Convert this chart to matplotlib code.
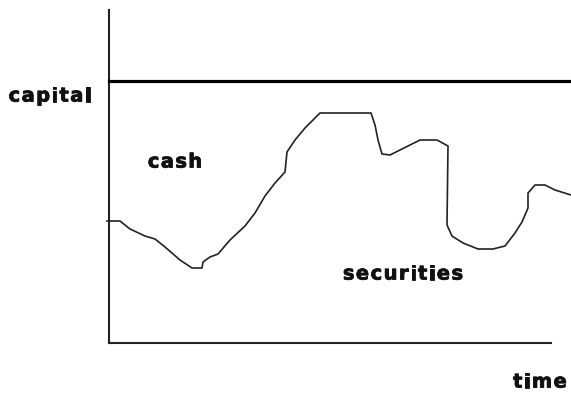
import matplotlib
matplotlib.use("Agg")
import matplotlib.pyplot as plt
import matplotlib.patheffects as pe
from matplotlib.font_manager import FontProperties

# canvas works in picture pixels, y grows downward
W, H = 571, 393

# mix of cash and securities over time (boundary curve)
curve_x = [107, 120, 130, 145, 155, 165, 180, 192, 202, 203, 210, 218, 230, 245,
           255, 265, 275, 285, 287, 295, 305, 320, 371, 375, 378, 382, 390, 400,
           420, 437, 448, 447, 452, 463, 478, 493, 505, 515, 522, 528, 528, 535,
           545, 555, 571]
curve_y = [221, 221, 229, 236, 239, 247, 260, 268, 268, 262, 257, 254, 240, 226,
           213, 196, 183, 172, 152, 140, 128, 113, 113, 125, 140, 154, 155, 150,
           140, 140, 146, 225, 236, 243, 249, 249, 246, 233, 222, 208, 193, 185,
           185, 190, 195]

capital_y = 81
axis_x = 109
axis_top, axis_bottom = 10, 343
axis_right = 551

labels = ["capital", "cash", "securities", "time"]
label_x = [50, 175, 403, 540]
label_y = [96, 162, 274, 382]

fig = plt.figure(figsize=(W / 100, H / 100), dpi=100)
ax = fig.add_axes([0, 0, 1, 1])
ax.set_xlim(0, W)
ax.set_ylim(H, 0)
ax.axis("off")

ax.plot([axis_x, axis_x], [axis_top, axis_bottom], color="#222222", lw=1.5)
ax.plot([axis_x, axis_right], [axis_bottom, axis_bottom], color="#222222", lw=1.5)
ax.plot([axis_x, W], [capital_y, capital_y], color="black", lw=2.3)
ax.plot(curve_x, curve_y, color="#222222", lw=1.2)

# heavy labels with a little extra letter spacing
prop = FontProperties(family="DejaVu Sans", weight="bold", size=14)
renderer = fig.canvas.get_renderer()
spacing = 1.4
heavy = [pe.withStroke(linewidth=0.6, foreground="#111111")]


def width(s):
    if not s:
        return 0.0
    w, _, _ = renderer.get_text_width_height_descent(s, prop, ismath=False)
    return w


for t, x, y in zip(labels, label_x, label_y):
    total = width(t) + spacing * (len(t) - 1)
    x0 = x - total / 2
    for i, ch in enumerate(t):
        cx = x0 + width(t[:i]) + spacing * i
        ax.text(cx, y, ch, ha="left", va="center", fontproperties=prop,
                color="#111111", path_effects=heavy)

fig.savefig("out.png", dpi=100)
